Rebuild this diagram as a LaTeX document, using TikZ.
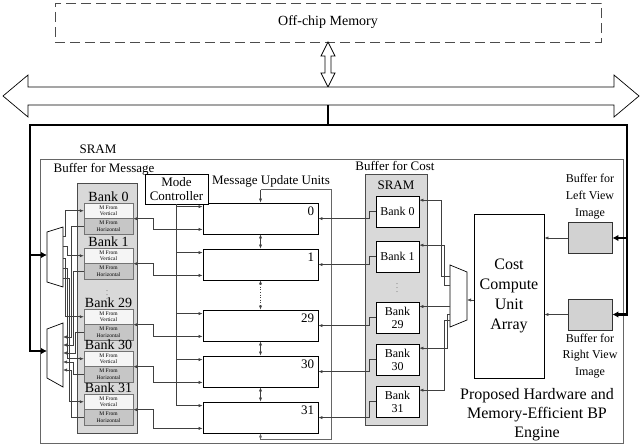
\documentclass[tikz,border=0pt]{standalone}
\usepackage{fontspec}
\setmainfont{Liberation Serif}
\usetikzlibrary{arrows.meta,calc}
\newcommand{\fsz}[2]{\fontsize{#1}{#2}\selectfont}

\begin{document}
\begin{tikzpicture}[x=1pt,y=-1pt,
    wire/.style={draw=black!75, line width=0.6pt},
    feed/.style={wire, -{Latex[length=4pt,width=3.2pt]}},
    both/.style={wire, {Latex[length=4pt,width=3.2pt]}-{Latex[length=4pt,width=3.2pt]}},
    bus/.style={line width=2.4pt, line join=miter},
    busfeed/.style={bus, -{Latex[length=6pt,width=6.5pt]}},
    unitbox/.style={draw, line width=0.8pt, fill=white, minimum width=115pt, minimum height=31pt, inner sep=0pt},
    halfv/.style={draw=black!55, line width=0.4pt, fill=gray!8, minimum width=49pt, minimum height=15.5pt, inner sep=0pt, align=center, font=\fsz{5.5}{6.3}},
    halfh/.style={halfv, fill=gray!45},
    bankname/.style={anchor=south, inner sep=0.5pt, font=\fsz{14}{14}},
    costbank/.style={draw, line width=0.7pt, fill=white, minimum width=43pt, minimum height=31pt, inner sep=0pt, align=center, font=\fsz{12}{13}},
    column/.style={draw=black!70, line width=0.8pt, fill=gray!30, inner sep=0pt},
    buffbox/.style={draw=black!80, line width=0.8pt, fill=gray!35, minimum width=44pt, minimum height=31pt, inner sep=0pt},
    txt/.style={inner sep=0pt, align=center},
    mux/.style={draw, line width=0.7pt, fill=white}
  ]
  \useasboundingbox (0,0) rectangle (642,447);

  % off-chip memory and system bus
  \node[draw=black!70, line width=0.8pt, dash pattern=on 10pt off 5pt, minimum width=546pt, minimum height=39pt, font=\fsz{14}{16}] (offchip) at (328,22.5) {Off-chip Memory};
  \draw[line width=0.7pt, fill=white] (328,42) -- (335,56) -- (331,56) -- (331,73) -- (335,73) -- (328,87)
    -- (321,73) -- (325,73) -- (325,56) -- (321,56) -- cycle;
  \draw[line width=0.7pt, fill=white] (3,96) -- (28,75) -- (28,87) -- (614,87) -- (614,75) -- (639,96)
    -- (614,117) -- (614,105) -- (28,105) -- (28,117) -- cycle;

  % engine frame
  \node[draw=black!60, line width=0.9pt, minimum width=583pt, minimum height=284pt, inner sep=0pt] (engine) at (331.5,301) {};
  \node[txt, font=\fsz{13}{15}] (sramlbl) at (98,149) {SRAM};
  \node[txt, font=\fsz{13}{15}] (msglbl) at (104,169) {Buffer for Message};
  \node[txt, font=\fsz{16}{19}] (englbl) at (537,415) {Proposed Hardware and\\Memory-Efficient BP\\Engine};

  % message buffer
  \node[column, minimum width=60pt, minimum height=250pt] (msgsram) at (107,308) {};
  \node[halfv] (mb0v) at (108.5,210.75) {M From\\Vertical};
  \node[halfh] (mb0h) at (108.5,226.25) {M From\\Horizontal};
  \node[halfv] (mb1v) at (108.5,255.75) {M From\\Vertical};
  \node[halfh] (mb1h) at (108.5,271.25) {M From\\Horizontal};
  \node[halfv] (mb29v) at (108.5,316.75) {M From\\Vertical};
  \node[halfh] (mb29h) at (108.5,332.25) {M From\\Horizontal};
  \node[halfv] (mb30v) at (108.5,358.75) {M From\\Vertical};
  \node[halfh] (mb30h) at (108.5,374.25) {M From\\Horizontal};
  \node[halfv] (mb31v) at (108.5,401.75) {M From\\Vertical};
  \node[halfh] (mb31h) at (108.5,417.25) {M From\\Horizontal};
  \node[bankname] (mb0lbl) at (mb0v.north) {Bank 0};
  \node[bankname] (mb1lbl) at (mb1v.north) {Bank 1};
  \node[bankname] (mb29lbl) at (mb29v.north) {Bank 29};
  \node[bankname] (mb30lbl) at (mb30v.north) {Bank 30};
  \node[bankname] (mb31lbl) at (mb31v.north) {Bank 31};
  \node[txt, font=\fsz{6}{6}] (mbdots) at (107,292) {$\vdots$};

  % write and read muxes of the message buffer
  \draw[mux] (47,232) -- (63,227) -- (63,287) -- (47,282) -- cycle;
  \draw[mux] (47,329) -- (63,323) -- (63,387) -- (47,378) -- cycle;
  \coordinate (umin) at (47,255);
  \coordinate (lmin) at (47,351);
  \coordinate (um1) at (63,236);
  \coordinate (um2) at (63,246);
  \coordinate (um3) at (63,258);
  \coordinate (um4) at (63,268);
  \coordinate (um5) at (63,278);
  \coordinate (lm1) at (63,337);
  \coordinate (lm2) at (63,345);
  \coordinate (lm3) at (63,353);
  \coordinate (lm4) at (63,362);
  \coordinate (lm5) at (63,370);
  \draw[feed] (um1) -- ++(2,0) |- (mb0v.west);
  \draw[feed] (um2) -- ++(4,0) |- (mb1v.west);
  \draw[feed] (um3) -- ++(2,0) |- (mb29v.west);
  \draw[feed] (um4) -- ++(4,0) |- (mb30v.west);
  \draw[feed] (um5) -- ++(6,0) |- (mb31v.west);
  \draw[feed] (mb0h.west) -- ++(-13,0) |- (lm1);
  \draw[feed] (mb1h.west) -- ++(-11,0) |- (lm2);
  \draw[feed] (mb29h.west) -- ++(-9,0) |- (lm3);
  \draw[feed] (mb30h.west) -- ++(-11,0) |- (lm4);
  \draw[feed] (mb31h.west) -- ++(-13,0) |- (lm5);

  % message update units
  \node[txt, font=\fsz{13}{15}] (unitlbl) at (271,181) {Message Update Units};
  \node[unitbox] (mu0) at (260.5,218.5) {};
  \node[unitbox] (mu1) at (260.5,264.5) {};
  \node[unitbox] (mu29) at (260.5,325.5) {};
  \node[unitbox] (mu30) at (260.5,371.5) {};
  \node[unitbox] (mu31) at (260.5,417.5) {};
  \node[txt, anchor=north east, font=\fsz{13}{13}] (mu0n) at ($(mu0.north east)+(-4,4)$) {0};
  \node[txt, anchor=north east, font=\fsz{13}{13}] (mu1n) at ($(mu1.north east)+(-4,4)$) {1};
  \node[txt, anchor=north east, font=\fsz{13}{13}] (mu29n) at ($(mu29.north east)+(-4,4)$) {29};
  \node[txt, anchor=north east, font=\fsz{13}{13}] (mu30n) at ($(mu30.north east)+(-4,4)$) {30};
  \node[txt, anchor=north east, font=\fsz{13}{13}] (mu31n) at ($(mu31.north east)+(-4,4)$) {31};
  \draw[both] (mu0.south) -- (mu1.north);
  \draw[both, dotted] (mu1.south) -- (mu29.north);
  \draw[both] (mu29.south) -- (mu30.north);
  \draw[both] (mu30.south) -- (mu31.north);
  \coordinate (ringtop) at ($(mu0.north)+(0,-13)$);
  \coordinate (ringbot) at ($(mu31.south)+(0,6)$);
  \draw[feed] (ringtop) -- (mu0.north);
  \draw[feed, draw=black!60] (ringtop) -- ++(70.5,0) |- (ringbot) -- (mu31.south);

  % mode controller
  \node[draw, line width=0.8pt, fill=white, minimum width=63pt, minimum height=30pt, inner sep=0pt, align=center, font=\fsz{13}{14.5}] (mode) at (176.5,189) {Mode\\Controller};
  \coordinate (mc0) at ($(mu0.north west)+(0,4)$);
  \coordinate (mc1) at ($(mu1.north west)+(0,4)$);
  \coordinate (mc29) at ($(mu29.north west)+(0,4)$);
  \coordinate (mc30) at ($(mu30.north west)+(0,4)$);
  \coordinate (mc31) at ($(mu31.north west)+(0,4)$);
  \draw[feed] (mode.south) |- (mc31);
  \draw[feed] (mode.south |- mc0) -- (mc0);
  \draw[feed] (mode.south |- mc1) -- (mc1);
  \draw[feed] (mode.south |- mc29) -- (mc29);
  \draw[feed] (mode.south |- mc30) -- (mc30);

  % message banks to update units
  \coordinate (ml0) at ($(mu0.south west)+(0,-5)$);
  \coordinate (ml1) at ($(mu1.south west)+(0,-5)$);
  \coordinate (ml29) at ($(mu29.south west)+(0,-5)$);
  \coordinate (ml30) at ($(mu30.south west)+(0,-5)$);
  \coordinate (ml31) at ($(mu31.south west)+(0,-5)$);
  \draw[both] (mb0v.south east) -- ++(20,0) |- (ml0);
  \draw[both] (mb1v.south east) -- ++(20,0) |- (ml1);
  \draw[both] (mb29v.south east) -- ++(20,0) |- (ml29);
  \draw[both] (mb30v.south east) -- ++(20,0) |- (ml30);
  \draw[both] (mb31v.south east) -- ++(20,0) |- (ml31);

  % cost buffer
  \node[txt, font=\fsz{13}{15}] (costlbl) at (395,166) {Buffer for Cost};
  \node[column, minimum width=62pt, minimum height=251pt] (costsram) at (396,299.5) {};
  \node[txt, font=\fsz{13}{15}] (costsramlbl) at (396,185) {SRAM};
  \node[costbank] (cb0) at (397.5,211.5) {Bank 0};
  \node[costbank] (cb1) at (397.5,256.5) {Bank 1};
  \node[costbank] (cb29) at (397.5,317.5) {Bank\\29};
  \node[costbank] (cb30) at (397.5,359.5) {Bank\\30};
  \node[costbank] (cb31) at (397.5,401.5) {Bank\\31};
  \node[txt, font=\fsz{6}{6}] (cbdots) at (397,285) {$\vdots$};
  \coordinate (mr0) at ($(mu0.north east)+(0,16)$);
  \coordinate (mr1) at ($(mu1.north east)+(0,16)$);
  \coordinate (mr29) at ($(mu29.north east)+(0,16)$);
  \coordinate (mr30) at ($(mu30.north east)+(0,16)$);
  \coordinate (mr31) at ($(mu31.north east)+(0,16)$);
  \draw[feed] (cb0.west) -- ++(-6,0) |- (mr0);
  \draw[feed] (cb1.west) -- ++(-6,0) |- (mr1);
  \draw[feed] (cb29.west) -- ++(-6,0) |- (mr29);
  \draw[feed] (cb30.west) -- ++(-6,0) |- (mr30);
  \draw[feed] (cb31.west) -- ++(-6,0) |- (mr31);

  % cost mux and compute array
  \draw[mux] (450,265) -- (467,272) -- (467,320) -- (450,327) -- cycle;
  \coordinate (cmin) at (467,300);
  \coordinate (cm1) at (450,276);
  \coordinate (cm2) at (450,285);
  \coordinate (cm3) at (450,306.5);
  \coordinate (cm4) at (450,314);
  \coordinate (cm5) at (450,320);
  \draw[feed] (cm1) -- ++(-9,0) |- ($(cb0.north east)+(0,4.5)$);
  \draw[feed] (cm2) -- ++(-6,0) |- ($(cb1.north east)+(0,4.5)$);
  \draw[feed] (cm3) -- (cm3 -| cb29.east);
  \draw[feed] (cm4) -- ++(-3,0) |- ($(cb30.north east)+(0,4.5)$);
  \draw[feed] (cm5) -- ++(-6,0) |- ($(cb31.north east)+(0,4.5)$);
  \node[draw, line width=0.8pt, fill=white, minimum width=70pt, minimum height=164pt, inner sep=0pt, align=center, font=\fsz{16}{20}] (ccu) at (509,296) {Cost\\Compute\\Unit\\Array};
  \draw[feed] (ccu.west |- cmin) -- (cmin);

  % view image buffers
  \node[buffbox] (lbuf) at (590,238) {};
  \node[buffbox] (rbuf) at (590,314.5) {};
  \node[txt, anchor=south, font=\fsz{12}{17}] (lbuflbl) at ($(lbuf.north)+(0,-3)$) {Buffer for\\Left View\\Image};
  \node[txt, anchor=north, font=\fsz{12}{16.5}] (rbuflbl) at ($(rbuf.south)+(0,3)$) {Buffer for\\Right View\\Image};
  \draw[feed] (lbuf.west) -- (ccu.east |- lbuf.west);
  \draw[feed] (rbuf.west) -- (ccu.east |- rbuf.west);

  % thick bus wiring
  \coordinate (bustap) at (328,105);
  \draw[bus] (bustap) -- (328,125);
  \draw[busfeed] (328,125) -- (30,125) -- (30,351) -- (lmin);
  \draw[busfeed] (30,255) -- (umin);
  \draw[busfeed] (328,125) -- (627,125) -- (627,314.5) -- (rbuf.east);
  \draw[busfeed] (627,238) -- (lbuf.east);
\end{tikzpicture}
\end{document}
